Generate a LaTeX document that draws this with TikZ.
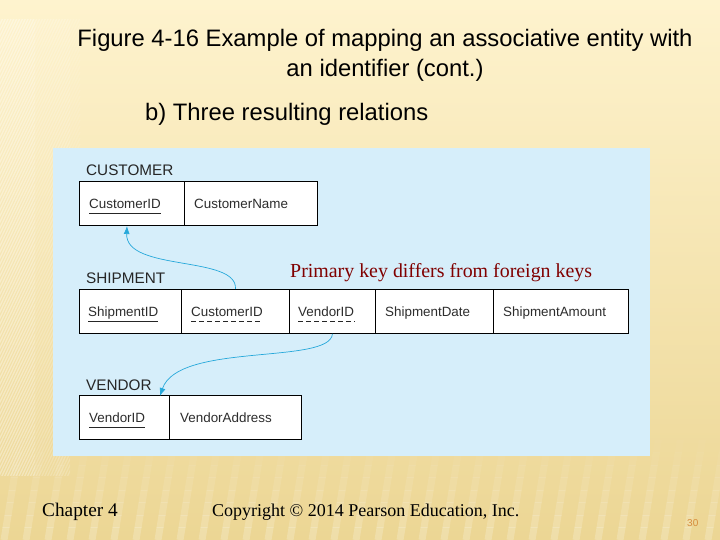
\documentclass[tikz,border=0pt]{standalone}
\usepackage{fontspec}
\setmainfont{Liberation Serif}
\newfontfamily\arialf{Liberation Sans}
\usetikzlibrary{arrows.meta}
\definecolor{bgtop}{RGB}{254,243,206}
\definecolor{bgbot}{RGB}{236,214,148}
\definecolor{panel}{RGB}{214,238,250}
\definecolor{arr}{RGB}{38,168,218}
\definecolor{maroon}{RGB}{128,0,0}
\definecolor{celltext}{RGB}{45,45,45}
\definecolor{pagenum}{RGB}{214,140,60}
\tikzset{
  cellbox/.style={draw=black, line width=0.9pt, fill=white, minimum height=44pt, inner sep=0pt, anchor=north west},
  celltxt/.style={font=\arialf\fontsize{13.4}{15}\selectfont, text=celltext, inner sep=0pt, anchor=base west},
  tabname/.style={font=\arialf\fontsize{15.3}{17}\selectfont, text=black!85, inner sep=0pt, anchor=base west},
  titletxt/.style={font=\arialf\fontsize{23.8}{27}\selectfont, inner sep=0pt, anchor=base},
  foot/.style={font=\fontsize{18}{20}\selectfont, inner sep=0pt, anchor=base west},
  fk/.style={arr, line width=0.7pt, -{Latex[length=8pt,width=6pt]}},
  ul/.style={line width=0.8pt, black!85},
  dul/.style={ul, dash pattern=on 5pt off 3pt},
  thinstripe/.style={white, line width=1.3pt}
}
\begin{document}
\begin{tikzpicture}[x=1pt,y=-1pt]
\useasboundingbox (0,0) rectangle (720,540);
\shade[top color=bgtop, bottom color=bgbot] (0,0) rectangle (720,540);
% faint diagonal stripes at the left
\begin{scope}
\clip (0,20) rectangle (35,475);
\foreach \i in {0,6,...,700}
  \draw[thinstripe, opacity=0.35] (-20,\i) -- ++(100,-210);
\end{scope}
\begin{scope}
\clip (35,20) rectangle (70,475);
\foreach \i in {0,6,...,700}
  \draw[thinstripe, opacity=0.2] (-20,\i) -- ++(100,-210);
\end{scope}
\begin{scope}
\clip (70,20) rectangle (105,148);
\foreach \i in {0,6,...,700}
  \draw[thinstripe, opacity=0.1] (-20,\i) -- ++(100,-210);
\end{scope}
% soft bands at the bottom
\foreach \k in {1,...,8} {
  \begin{scope}
  \clip (0,{440+(\k-1)*12.5}) rectangle (720,{440+\k*12.5});
  \foreach \i in {0,22,...,760}
    \draw[white, line width=7pt, opacity={0.025*\k}] (\i,430) -- ++(-18,110);
  \end{scope}
}
\fill[panel] (53,148) rectangle (650,456);

% title
\node[titletxt] (t1) at (385,47) {Figure 4-16 Example of mapping an associative entity with};
\node[titletxt] (t2) at (385,77) {an identifier (cont.)};
\node[titletxt, anchor=base west] (t3) at (145,121) {b) Three resulting relations};

% CUSTOMER
\node[tabname] (custname) at (86,176) {CUSTOMER};
\node[cellbox, minimum width=105pt] (c1) at (79,181) {};
\node[cellbox, minimum width=133pt] (c2) at (184,181) {};
\node[celltxt] (c1t) at (89,208) {CustomerID};
\node[celltxt] (c2t) at (194,208) {CustomerName};
\draw[ul] (89,213) -- (c1t.base east |- 0,213);

% SHIPMENT
\node[tabname] (shipname) at (86,283) {SHIPMENT};
\node[cellbox, minimum width=102pt] (s1) at (79,289) {};
\node[cellbox, minimum width=108pt] (s2) at (181,289) {};
\node[cellbox, minimum width=86pt] (s3) at (289,289) {};
\node[cellbox, minimum width=118pt] (s4) at (375,289) {};
\node[cellbox, minimum width=135pt] (s5) at (493,289) {};
\node[celltxt] (s1t) at (88,316) {ShipmentID};
\node[celltxt] (s2t) at (191,316) {CustomerID};
\node[celltxt] (s3t) at (298,316) {VendorID};
\node[celltxt] (s4t) at (385,316) {ShipmentDate};
\node[celltxt] (s5t) at (503,316) {ShipmentAmount};
\draw[ul] (88,321) -- (s1t.base east |- 0,321);
\draw[dul] (191,321) -- (s2t.base east |- 0,321);
\draw[dul] (298,321) -- (s3t.base east |- 0,321);

\node[font=\fontsize{19.9}{22}\selectfont, text=maroon, inner sep=0pt, anchor=base west] (note) at (290,277) {Primary key differs from foreign keys};

% VENDOR
\node[tabname] (vendname) at (86,390) {VENDOR};
\node[cellbox, minimum width=90pt] (v1) at (79,395) {};
\node[cellbox, minimum width=132pt] (v2) at (169,395) {};
\node[celltxt] (v1t) at (89,422) {VendorID};
\node[celltxt] (v2t) at (180,422) {VendorAddress};
\draw[ul] (89,427) -- (v1t.base east |- 0,427);

% connectors
\coordinate (tipc) at (127,226);
\coordinate (tipv) at (160,396);
\draw[fk] (s2.north) .. controls (238,255) and (125,272) .. (tipc);
\draw[fk] (s3.south) .. controls (330,365) and (178,342) .. (tipv);

% footer
\node[foot, font=\fontsize{19.3}{21}\selectfont] (ch) at (42,516) {Chapter 4};
\node[foot] (cp) at (212,516) {Copyright \textcopyright{} 2014 Pearson Education, Inc.};
\node[font=\arialf\fontsize{10}{12}\selectfont, text=pagenum, inner sep=0pt, anchor=base west] (pg) at (687,526) {30};
\end{tikzpicture}
\end{document}
